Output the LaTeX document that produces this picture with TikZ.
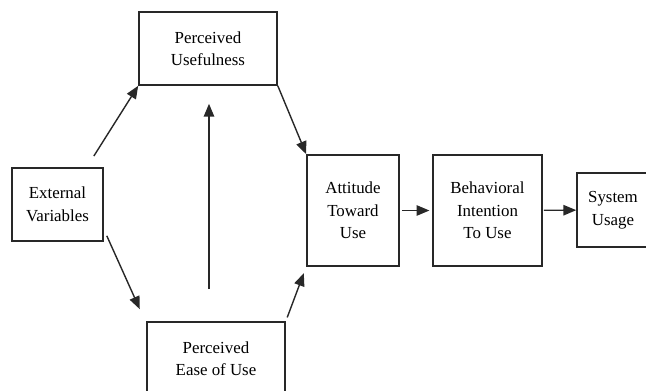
\documentclass[tikz,border=0pt]{standalone}
\usepackage{fontspec}
\setmainfont{Liberation Serif}
\usepackage{tikz}
\usetikzlibrary{arrows.meta,positioning,calc}
\definecolor{boxline}{RGB}{40,40,40}
\tikzset{
  tambox/.style={draw=boxline, line width=1.1pt, align=center,
                 minimum width=#1, minimum height=1.825cm,
                 font=\rmfamily\fontsize{12}{16}\selectfont, inner sep=2pt},
  tambox/.default=3.45cm,
  tallbox/.style={tambox=#1, minimum height=2.775cm},
  arr/.style={-{Triangle[length=0.32cm,width=0.26cm]}, line width=1pt, draw=boxline},
}
\begin{document}
\begin{tikzpicture}[x=0.025cm,y=-0.025cm]
  \useasboundingbox (0,0) rectangle (646,390);
  \clip (0,0) rectangle (646,390);
  \node[tambox] (pu) at (208,48.5) {Perceived\\Usefulness};
  \node[tambox=2.275cm] (ev) at (57.5,204.5) {External\\Variables};
  \node[tambox] (peou) at (216,358.5) {Perceived\\Ease of Use};
  \node[tallbox=2.3cm] (atu) at (353,210.5) {Attitude\\Toward\\Use};
  \node[tallbox=2.725cm] (bi) at (487.5,210.5) {Behavioral\\Intention\\To Use};
  \node[tambox=1.8cm, minimum height=1.85cm] (su) at (613,210) {System\\Usage};
  \draw[arr, shorten <=0.33cm] ([shift={(-17,0)}]ev.north east) -- (pu.south west);
  \draw[arr] (pu.south east) -- (atu.north west);
  \draw[arr, shorten >=0.33cm] ([shift={(3,-6)}]ev.south east) -- ([shift={(-1,0)}]peou.north west);
  \draw[arr, shorten <=0.1cm, shorten >=0.17cm] (peou.north east) -- (atu.south west);
  \draw[arr] ($(peou.north)+(-7,-32)$) -- ($(pu.south)+(1,18)$);
  \draw[arr, shorten <=0.05cm, shorten >=0.07cm] (atu) -- (bi);
  \draw[arr, shorten <=0.03cm] (bi) -- (su);
\end{tikzpicture}
\end{document}
